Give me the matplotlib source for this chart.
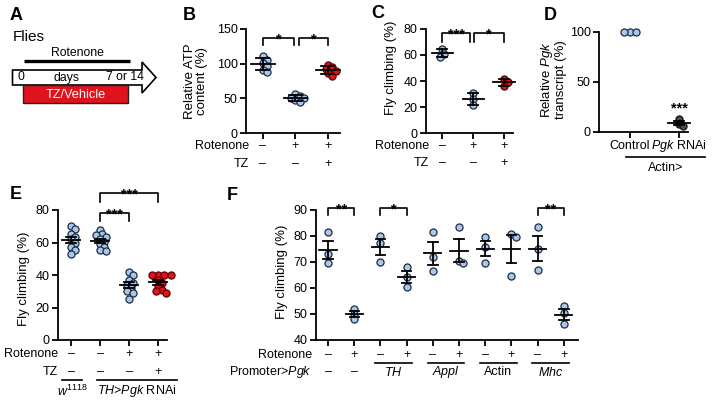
import matplotlib
matplotlib.use('Agg')
import matplotlib.pyplot as plt
import numpy as np
from matplotlib import transforms as mtrans
from matplotlib.patches import Polygon, Rectangle

plt.rcParams['font.family'] = ['Liberation Sans', 'DejaVu Sans']
plt.rcParams['mathtext.fontset'] = 'custom'
plt.rcParams['mathtext.rm'] = 'Liberation Sans'
plt.rcParams['mathtext.it'] = 'Liberation Sans:italic'
plt.rcParams['mathtext.bf'] = 'Liberation Sans:bold'

# ---------------- data ----------------
B_ctrl = [111, 106, 101, 97, 91, 88]
B_rot = [56, 53, 51, 50, 48, 45]
B_rot_tz = [98, 95, 92, 90, 86, 82]
B_rotenone = ['–', '+', '+']
B_tz = ['–', '–', '+']

C_ctrl = [64.5, 61, 58.5]
C_rot = [30.5, 26, 21.5]
C_rot_tz = [41.5, 39, 36.5]
C_rotenone = ['–', '+', '+']
C_tz = ['–', '–', '+']

D_ctrl = [100, 100, 100]
D_rnai = [13.5, 8, 6]
D_labels = ['Control', r'$\mathit{Pgk}$ RNAi']

E_w1118 = [70, 68.5, 65, 63.5, 62, 60, 57, 55.5, 53]
E_th = [68, 65.5, 64.5, 63.5, 62, 60.5, 59, 57.5, 55.5, 54.5]
E_th_rot = [42, 40, 37, 35, 34, 32, 30, 29, 25]
E_th_rot_tz = [40, 40, 40, 40, 37, 35, 33, 31, 30, 29]
E_rotenone = ['–', '–', '+', '+']
E_tz = ['–', '–', '–', '+']

F_vals = [
    [81.5, 73, 69.5],
    [52, 50, 48.2],
    [80, 77.4, 70.1],
    [68.2, 64.1, 60.5],
    [81.7, 71.8, 66.5],
    [83.3, 70.4, 69.5],
    [79.7, 75.9, 69.7],
    [80.8, 79.7, 64.6],
    [83.6, 74.9, 66.9],
    [53.1, 50.3, 46.0],
]
F_rotenone = ['–', '+'] * 5
F_promoters = ['–', r'$\mathit{TH}$', r'$\mathit{Appl}$', 'Actin', r'$\mathit{Mhc}$']

# ---------------- styling ----------------
W, H = 721, 405
fig = plt.figure(figsize=(W / 100, H / 100), dpi=100)

BLUE = '#a7c8ea'
BLUE_E = '#1d2c40'
RED = '#e0121b'
RED_E = '#5a0000'
GREY = '#4a4a4a'
FS = 9
LFS = 9.5


def fy(ypx):
    return 1 - ypx / H


def add_ax(l, t, r, b):
    ax = fig.add_axes([l / W, 1 - b / H, (r - l) / W, (b - t) / H])
    ax.patch.set_visible(False)
    for s in ['top', 'right']:
        ax.spines[s].set_visible(False)
    for s in ['left', 'bottom']:
        ax.spines[s].set_linewidth(1.3)
    ax.tick_params(direction='out', length=4, width=1.3, labelsize=FS, pad=2)
    return ax


def swarm(ax, x0, vals, d=7.0):
    pts = ax.transData.transform(np.column_stack([np.full(len(vals), x0), vals]))
    ys = pts[:, 1]
    offs = np.zeros(len(vals))
    placed = []
    st = 0.3 * d
    for i in np.argsort(-ys):
        for k in range(60):
            c = ((k + 1) // 2) * st * (1 if k % 2 else -1)
            if all(np.hypot(c - px, ys[i] - py) >= 0.65 * d for px, py in placed):
                offs[i] = c
                placed.append((c, ys[i]))
                break
    disp = np.column_stack([pts[:, 0] + offs, ys])
    return ax.transData.inverted().transform(disp)[:, 0]


def group(ax, x0, vals, fc, ec, hw, cw, err='sd'):
    vals = np.asarray(vals, float)
    xs = swarm(ax, x0, vals)
    ax.scatter(xs, vals, s=26, facecolor=fc, edgecolor=ec, linewidth=0.9, zorder=3, clip_on=False)
    m = vals.mean()
    e = vals.std(ddof=1)
    if err == 'sem':
        e = e / np.sqrt(len(vals))
    ax.plot([x0 - hw, x0 + hw], [m, m], color='k', lw=1.3, zorder=4, clip_on=False)
    ax.plot([x0, x0], [m - e, m + e], color='k', lw=1.3, zorder=4, clip_on=False)
    for yy in (m - e, m + e):
        ax.plot([x0 - cw, x0 + cw], [yy, yy], color='k', lw=1.3, zorder=4, clip_on=False)


def bracket(ax, x1, x2, ytop, yleg, s):
    ax.plot([x1, x1, x2, x2], [yleg, ytop, ytop, yleg], color='k', lw=1.2, clip_on=False)
    ax.annotate(s, xy=((x1 + x2) / 2, ytop), xytext=(0, -3.8), textcoords='offset points',
                ha='center', va='baseline', fontsize=10.5, fontweight='bold', annotation_clip=False)


def row(ax, xs, labels, ypx, **kw):
    tr = mtrans.blended_transform_factory(ax.transData, fig.transFigure)
    for x, s in zip(xs, labels):
        ax.text(x, fy(ypx), s, transform=tr, ha='center', va='center', fontsize=FS, clip_on=False, **kw)


def uline(ax, x1, x2, ypx):
    tr = mtrans.blended_transform_factory(ax.transData, fig.transFigure)
    ax.plot([x1, x2], [fy(ypx), fy(ypx)], transform=tr, color='k', lw=1.2, clip_on=False)


def ftext(x, y, s, **kw):
    kw.setdefault('fontsize', FS)
    fig.text(x / W, fy(y), s, **kw)


def letter(x, y, s):
    ftext(x, y, s, fontsize=13, fontweight='bold', ha='center', va='center')


# ---------------- Panel A ----------------
ov = fig.add_axes([0, 0, 1, 1])
ov.set_xlim(0, W)
ov.set_ylim(H, 0)
ov.axis('off')
ov.add_patch(Polygon([(12.5, 70), (142, 70), (142, 62), (156, 77.5), (142, 93), (142, 85), (12.5, 85)],
                     closed=True, facecolor='white', edgecolor='k', lw=1.2))
ov.add_patch(Rectangle((23, 85), 105, 18, facecolor=RED, edgecolor='#222222', lw=1.0))
ov.plot([24, 130], [61, 61], color='k', lw=2.4, solid_capstyle='butt')
letter(16, 16, 'A')
ftext(13, 37, 'Flies', fontsize=11, ha='left', va='center')
ftext(77, 53, 'Rotenone', fontsize=8.8, ha='center', va='center')
ftext(21, 77.5, '0', fontsize=8.8, ha='center', va='center')
ftext(67, 77.5, 'days', fontsize=8.8, ha='center', va='center')
ftext(125, 77.5, '7 or 14', fontsize=8.8, ha='center', va='center')
ftext(75.5, 94.5, 'TZ/Vehicle', fontsize=9.2, ha='center', va='center', color='white')

# ---------------- Panel B ----------------
axB = add_ax(246, 29, 340, 133)
axB.set_xlim(-0.52, 2.37)
axB.set_ylim(0, 150)
axB.set_yticks([0, 50, 100, 150])
axB.set_xticks([0, 1, 2])
axB.set_xticklabels([])
for x, v, fc, ec in [(0, B_ctrl, BLUE, BLUE_E), (1, B_rot, BLUE, BLUE_E), (2, B_rot_tz, RED, RED_E)]:
    group(axB, x, v, fc, ec, 0.36, 0.2, 'sd')
bracket(axB, 0, 0.95, 137, 127, '*')
bracket(axB, 1.1, 2, 137, 127, '*')
row(axB, [0, 1, 2], B_rotenone, 146)
row(axB, [0, 1, 2], B_tz, 164)
ftext(249, 146, 'Rotenone', ha='right', va='center')
ftext(249, 164, 'TZ', ha='right', va='center')
ftext(196, 81, 'Relative ATP\ncontent (%)', rotation=90, ha='center', va='center',
      fontsize=LFS, linespacing=1.1)
letter(189, 16, 'B')

# ---------------- Panel C ----------------
axC = add_ax(426, 29, 513, 133)
axC.set_xlim(-0.52, 2.29)
axC.set_ylim(0, 80)
axC.set_yticks([0, 20, 40, 60, 80])
axC.set_xticks([0, 1, 2])
axC.set_xticklabels([])
for x, v, fc, ec in [(0, C_ctrl, BLUE, BLUE_E), (1, C_rot, BLUE, BLUE_E), (2, C_rot_tz, RED, RED_E)]:
    group(axC, x, v, fc, ec, 0.34, 0.17, 'sd')
bracket(axC, 0, 0.9, 77, 70, '***')
bracket(axC, 1.03, 2, 77, 70, '*')
row(axC, [0, 1, 2], C_rotenone, 146)
row(axC, [0, 1, 2], C_tz, 163)
ftext(429, 146, 'Rotenone', ha='right', va='center')
ftext(429, 163, 'TZ', ha='right', va='center')
ftext(391, 68, 'Fly climbing (%)', rotation=90, ha='center', va='center', fontsize=LFS)
letter(378, 14, 'C')

# ---------------- Panel D ----------------
axD = add_ax(599, 32, 688, 132)
axD.set_xlim(-0.63, 1.18)
axD.set_ylim(0, 100)
axD.set_yticks([0, 50, 100])
axD.set_xticks([0, 1])
axD.set_xticklabels([])
group(axD, 0, D_ctrl, BLUE, BLUE_E, 0.0, 0.0, 'sem')
group(axD, 1, D_rnai, GREY, '#111111', 0.22, 0.1, 'sem')
axD.annotate('***', xy=(1, 20), xytext=(0, 0), textcoords='offset points', ha='center',
             va='baseline', fontsize=10.5, fontweight='bold', annotation_clip=False)
row(axD, [0, 1], D_labels, 146)
uline(axD, -0.08, 1.53, 157)
ftext(666, 168, 'Actin>', ha='center', va='center')
ftext(553, 80, 'Relative $\\mathit{Pgk}$\ntranscript (%)', rotation=90, ha='center', va='center',
      fontsize=LFS, linespacing=1.1)
letter(550, 16, 'D')

# ---------------- Panel E ----------------
axE = add_ax(58, 210, 167, 340)
axE.set_xlim(-0.45, 3.31)
axE.set_ylim(0, 80)
axE.set_yticks([0, 20, 40, 60, 80])
axE.set_xticks([0, 1, 2, 3])
axE.set_xticklabels([])
for x, v, fc, ec in [(0, E_w1118, BLUE, BLUE_E), (1, E_th, BLUE, BLUE_E),
                     (2, E_th_rot, BLUE, BLUE_E), (3, E_th_rot_tz, RED, RED_E)]:
    group(axE, x, v, fc, ec, 0.3, 0.17, 'sem')
bracket(axE, 1, 3, 90.5, 85, '***')
bracket(axE, 1, 2, 78, 73, '***')
row(axE, [0, 1, 2, 3], E_rotenone, 354)
row(axE, [0, 1, 2, 3], E_tz, 372)
ftext(58, 354, 'Rotenone', ha='right', va='center')
ftext(58, 372, 'TZ', ha='right', va='center')
row(axE, [0.05], [r'$\mathit{w}^{1118}$'], 391)
row(axE, [2.27], [r'$\mathit{TH}$>$\mathit{Pgk}$ RNAi'], 391)
uline(axE, -0.3, 0.38, 380)
uline(axE, 0.9, 3.66, 380)
ftext(24, 279, 'Fly climbing (%)', rotation=90, ha='center', va='center', fontsize=LFS)
letter(16, 195, 'E')

# ---------------- Panel F ----------------
axF = add_ax(316, 210, 578, 340)
axF.set_xlim(-0.46, 9.54)
axF.set_ylim(40, 90)
axF.set_yticks([40, 50, 60, 70, 80, 90])
axF.set_xticks(range(10))
axF.set_xticklabels([])
for i, v in enumerate(F_vals):
    group(axF, i, v, BLUE, BLUE_E, 0.33, 0.18, 'sem')
bracket(axF, 0, 1, 90.8, 88, '**')
bracket(axF, 2, 3, 90.8, 88, '*')
bracket(axF, 8, 9, 90.8, 88, '**')
row(axF, list(range(10)), F_rotenone, 355)
ftext(312, 355, 'Rotenone', ha='right', va='center')
ftext(312, 372, 'Promoter>$\\mathit{Pgk}$', ha='right', va='center')
row(axF, [0, 1], ['–', '–'], 372)
for g in range(1, 5):
    x1, x2 = 2 * g, 2 * g + 1
    uline(axF, x1 - 0.2, x2 + 0.2, 363)
    row(axF, [(x1 + x2) / 2], [F_promoters[g]], 372)
ftext(282, 272, 'Fly climbing (%)', rotation=90, ha='center', va='center', fontsize=LFS)
letter(232, 196, 'F')

fig.savefig('out.png', dpi=100)
